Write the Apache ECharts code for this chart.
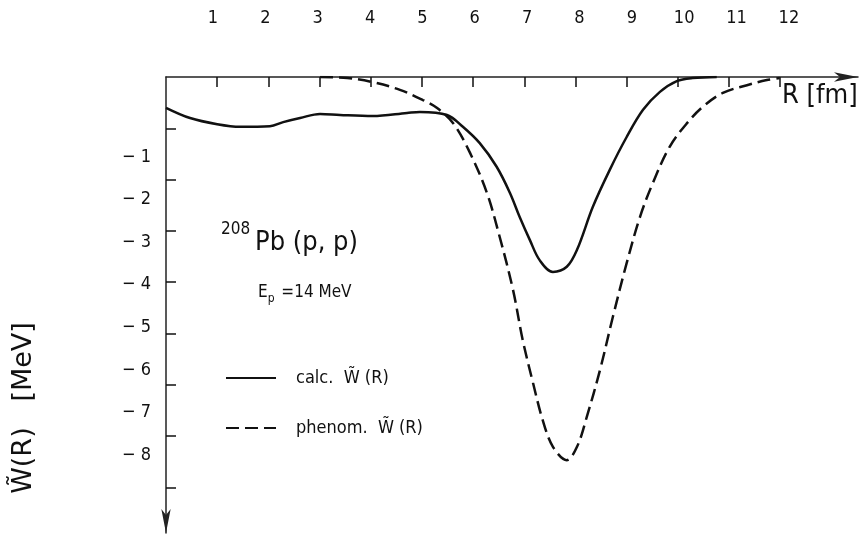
<!DOCTYPE html>
<html><head><meta charset="utf-8">
<script src="https://cdn.jsdelivr.net/npm/echarts@6/dist/echarts.min.js"></script>
<style>html,body{margin:0;padding:0;background:#fff}#c{width:864px;height:538px}</style>
</head><body><div id="c"></div>
<script>
const FONT = "'DejaVu Sans Condensed','Liberation Sans Narrow','DejaVu Sans',sans-serif";
const WIDE = "'DejaVu Sans','Noto Sans',sans-serif";
const xTickValues = [1,2,3,4,5,6,7,8,9,10,11,12];
const yTickValues = [-1,-2,-3,-4,-5,-6,-7,-8];
const seriesNames = ['calc.  W\u0303 (R)', 'phenom.  W\u0303 (R)'];
// calc. W(R)  (solid)
const calcR = [0,0.47,1.0,1.45,2.03,2.29,2.62,3.01,3.40,4.04,4.71,4.96,5.49,5.80,6.13,6.46,6.72,6.91,7.11,7.30,7.56,7.83,8.03,8.34,8.67,9.00,9.32,9.65,9.98,10.29,10.76];
const calcW = [-0.60,-0.80,-0.92,-0.97,-0.96,-0.88,-0.80,-0.72,-0.74,-0.76,-0.70,-0.68,-0.74,-0.97,-1.29,-1.75,-2.26,-2.73,-3.18,-3.57,-3.80,-3.70,-3.37,-2.53,-1.81,-1.17,-0.64,-0.29,-0.08,-0.02,0];
// phenom. W(R)  (dashed)
const phenR = [3.01,3.54,4.04,4.57,5.02,5.29,5.61,5.94,6.27,6.52,6.78,6.97,7.17,7.36,7.56,7.83,8.03,8.22,8.48,8.73,9.00,9.26,9.51,9.84,10.18,10.49,10.88,11.35,11.74,11.99];
const phenW = [0,-0.02,-0.10,-0.25,-0.45,-0.60,-0.90,-1.48,-2.26,-3.12,-4.15,-5.13,-5.96,-6.69,-7.21,-7.47,-7.21,-6.63,-5.71,-4.68,-3.63,-2.73,-2.07,-1.36,-0.90,-0.58,-0.31,-0.16,-0.06,-0.02];

const pairs = (a, b) => a.map((v, i) => [v, b[i]]);
const INK = '#111';
const chart = echarts.init(document.getElementById('c'), null, {renderer: 'canvas'});
chart.setOption({
  backgroundColor: '#fff',
  animation: false,
  textStyle: {fontFamily: FONT, color: INK},
  grid: [{left: 166, top: 77, right: 6, bottom: 5}],
  xAxis: [
    {type: 'value', position: 'top', min: 0, max: 13.52, gridIndex: 0,
     axisLine: {show: true, symbol: ['none', 'arrow'], symbolSize: [7, 24], lineStyle: {color: '#222', width: 1.5}},
     axisTick: {show: true, inside: true, length: 10, lineStyle: {color: INK, width: 1.5}, customValues: xTickValues},
     axisLabel: {show: false}, splitLine: {show: false}},
    {type: 'value', position: 'top', min: 0.103, max: 13.32, gridIndex: 0, offset: 40,
     axisLine: {show: false}, axisTick: {show: false}, splitLine: {show: false},
     axisLabel: {show: true, margin: 10, fontSize: 18, color: INK, fontFamily: FONT, customValues: xTickValues,
       formatter: v => String(Math.round(v))}}
  ],
  yAxis: [
    {type: 'value', min: -8.89, max: 0, gridIndex: 0,
     axisLine: {show: true, symbol: ['arrow', 'none'], symbolSize: [7, 24], lineStyle: {color: '#222', width: 1.5}},
     axisTick: {show: true, inside: true, length: 10, lineStyle: {color: INK, width: 1.5}, customValues: yTickValues},
     axisLabel: {show: false}, splitLine: {show: false}},
    {type: 'value', min: -9.83, max: 0.879, gridIndex: 0, position: 'left',
     axisLine: {show: false}, axisTick: {show: false}, splitLine: {show: false},
     axisLabel: {show: true, margin: 15, fontSize: 18, color: INK, fontFamily: FONT, customValues: yTickValues,
       formatter: v => '\u2212 ' + Math.abs(Math.round(v))}}
  ],
  legend: {
    orient: 'vertical', left: 225, top: 369, padding: 0, itemGap: 32,
    itemWidth: 50, itemHeight: 18,
    itemStyle: {opacity: 0},
    textStyle: {fontSize: 18, color: INK, fontFamily: FONT, padding: [0, 0, 0, 15]},
    data: seriesNames
  },
  series: [
    {name: seriesNames[0], type: 'line', xAxisIndex: 0, yAxisIndex: 0, data: pairs(calcR, calcW),
     symbol: 'none', smooth: 0.35, lineStyle: {color: INK, width: 2.5, type: 'solid'}, itemStyle: {color: INK}},
    {name: seriesNames[1], type: 'line', xAxisIndex: 0, yAxisIndex: 0, data: pairs(phenR, phenW),
     symbol: 'none', smooth: 0.35, lineStyle: {color: INK, width: 2.5, type: [13, 6]}, itemStyle: {color: INK}}
  ],
  graphic: [
    {type: 'text', left: 782, top: 82, style: {text: 'R [fm]', fontSize: 27, fill: INK, fontFamily: FONT}},
    {type: 'text', x: 24, y: 408, rotation: Math.PI / 2,
     style: {text: 'W\u0303(R)   [MeV]', fontSize: 27, fill: INK, fontFamily: WIDE, align: 'center', verticalAlign: 'middle'}},
    {type: 'text', x: 221, y: 230, style: {text: '208', fontSize: 17, fill: INK, fontFamily: FONT, verticalAlign: 'middle'}},
    {type: 'text', x: 255, y: 243, style: {text: 'Pb (p, p)', fontSize: 27, fill: INK, fontFamily: FONT, verticalAlign: 'middle'}},
    {type: 'text', x: 258, y: 293, style: {
      text: '{e|E}{p|p}{e| =14 MeV}', fill: INK, fontFamily: FONT, verticalAlign: 'middle',
      rich: {e: {fontSize: 17, fontFamily: FONT, lineHeight: 24, verticalAlign: 'middle'},
             p: {fontSize: 12, fontFamily: FONT, lineHeight: 24, verticalAlign: 'bottom', padding: [8, 2, 0, 0]}}}}
  ]
});
</script></body></html>
